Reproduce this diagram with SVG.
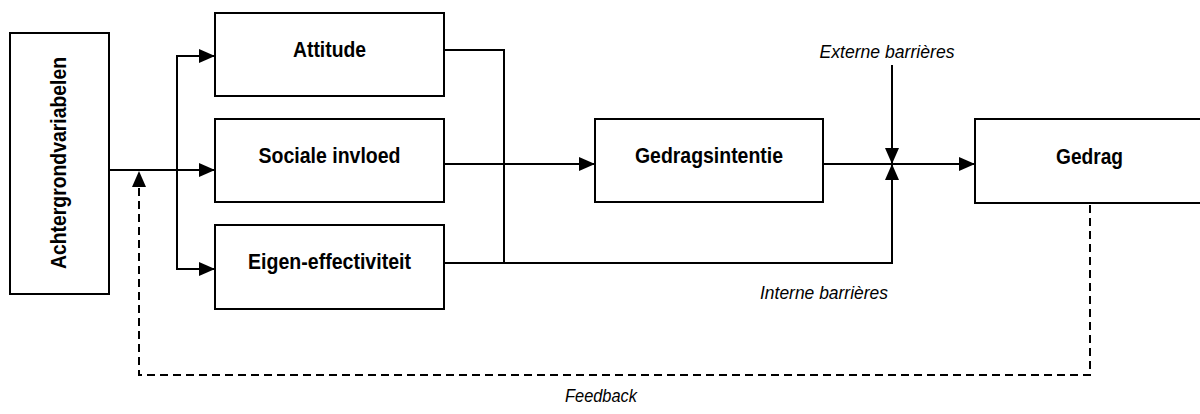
<svg xmlns="http://www.w3.org/2000/svg" width="1200" height="414" viewBox="0 0 1200 414">
<style>
.box{fill:#fff;stroke:#000;stroke-width:2}
.lbl{font-family:"Liberation Sans",Arial,sans-serif;font-weight:bold;font-size:22px;fill:#000;text-anchor:middle}
.it{font-family:"Liberation Sans",Arial,sans-serif;font-style:italic;font-size:18px;fill:#000;text-anchor:middle}
.ln{fill:none;stroke:#000;stroke-width:2}
.dash{fill:none;stroke:#000;stroke-width:2;stroke-dasharray:8 5}
</style>
<defs>
<marker id="ah" markerUnits="userSpaceOnUse" markerWidth="16" markerHeight="14" refX="16" refY="7" orient="auto" viewBox="0 0 16 14">
<path d="M0,0 L16,7 L0,14 z" fill="#000" stroke="none"/>
</marker>
</defs>
<rect width="1200" height="414" fill="#fff"/>
<g id="connectors">
<path class="ln" d="M109,170 H215" marker-end="url(#ah)"/>
<path class="ln" d="M177,170 V56 H215" marker-end="url(#ah)"/>
<path class="ln" d="M177,170 V269 H215" marker-end="url(#ah)"/>
<path class="ln" d="M444,50 H504 V263"/>
<path class="ln" d="M444,164 H595" marker-end="url(#ah)"/>
<path class="ln" d="M444,263 H892 V164" marker-end="url(#ah)"/>
<path class="ln" d="M823,164 H975" marker-end="url(#ah)"/>
<path class="ln" d="M892,65 V164" marker-end="url(#ah)"/>
<path class="dash" d="M1090,205 V375 H139 V171" marker-end="url(#ah)"/>
<text class="it" x="887" y="58" textLength="135" lengthAdjust="spacingAndGlyphs">Externe barrières</text>
<text class="it" x="824" y="299" textLength="128" lengthAdjust="spacingAndGlyphs">Interne barrières</text>
<text class="it" x="601" y="402" textLength="72" lengthAdjust="spacingAndGlyphs">Feedback</text>
</g>
<g id="achtergrond">
<rect class="box" x="10" y="33" width="99" height="261"/>
<text class="lbl" transform="translate(66,163) rotate(-90)" x="0" y="0" textLength="212" lengthAdjust="spacingAndGlyphs">Achtergrondvariabelen</text>
</g>
<g id="attitude">
<rect class="box" x="215" y="13" width="229" height="83"/>
<text class="lbl" x="329.5" y="57" textLength="73" lengthAdjust="spacingAndGlyphs">Attitude</text>
</g>
<g id="sociale">
<rect class="box" x="215" y="119" width="229" height="83"/>
<text class="lbl" x="329.5" y="163" textLength="142" lengthAdjust="spacingAndGlyphs">Sociale invloed</text>
</g>
<g id="eigen">
<rect class="box" x="215" y="225" width="229" height="84"/>
<text class="lbl" x="329.5" y="269" textLength="163" lengthAdjust="spacingAndGlyphs">Eigen-effectiviteit</text>
</g>
<g id="gedragsintentie">
<rect class="box" x="595" y="119" width="228" height="83"/>
<text class="lbl" x="709" y="163" textLength="148" lengthAdjust="spacingAndGlyphs">Gedragsintentie</text>
</g>
<g id="gedrag">
<rect class="box" x="975" y="119" width="229" height="84"/>
<text class="lbl" x="1089.5" y="164" textLength="67" lengthAdjust="spacingAndGlyphs">Gedrag</text>
</g>
</svg>
